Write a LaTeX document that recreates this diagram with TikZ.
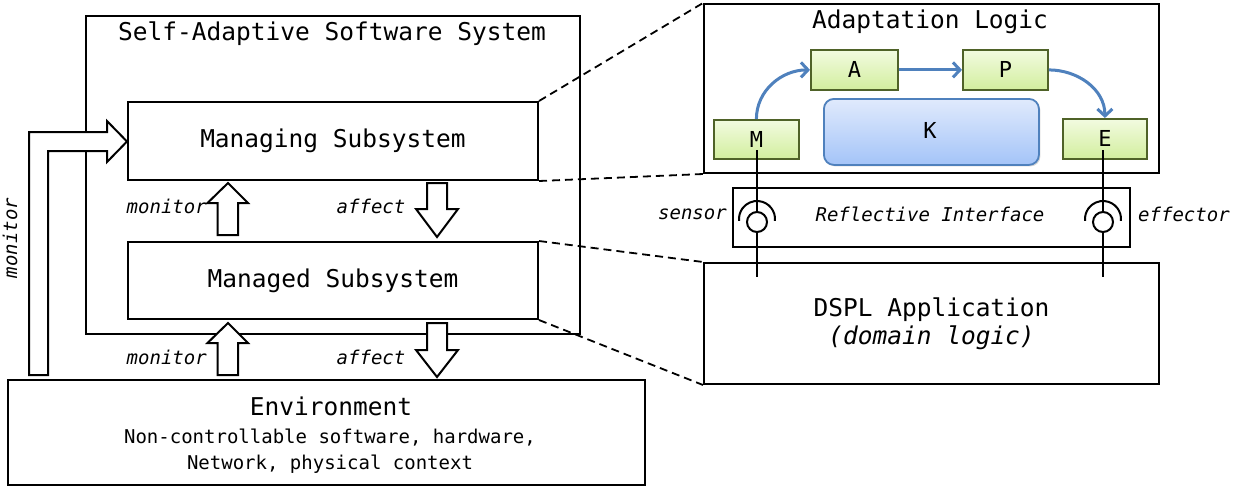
\documentclass[tikz,border=0pt]{standalone}
\usepackage{fontspec}
\setmainfont{DejaVu Sans Mono}
\usetikzlibrary{arrows.meta,shadows,calc}
\definecolor{mapeline}{RGB}{79,98,40}
\definecolor{mapetop}{RGB}{242,251,224}
\definecolor{mapebot}{RGB}{210,238,158}
\definecolor{ktop}{RGB}{224,234,252}
\definecolor{kbot}{RGB}{164,196,248}
\definecolor{kline}{RGB}{79,129,189}
\definecolor{flowc}{RGB}{79,129,189}
\newcommand\FBig{\fontsize{24.5}{29}\selectfont}
\newcommand\FSmall{\fontsize{19}{26}\selectfont}
\newcommand\FMape{\fontsize{22}{25}\selectfont}
\begin{document}
\begin{tikzpicture}[x=1pt,y=-1pt,
  box/.style={draw,line width=2pt,fill=white,anchor=north west,inner sep=0pt,font=\FBig},
  mape/.style={draw=mapeline,line width=1.8pt,top color=mapetop,bottom color=mapebot,
    anchor=north west,inner sep=0pt,font=\FMape,
    drop shadow={shadow xshift=1.5pt,shadow yshift=-1.5pt,opacity=0.35,fill=black!45}},
  kbox/.style={draw=kline,line width=1.8pt,top color=ktop,bottom color=kbot,rounded corners=10pt,
    anchor=north west,inner sep=0pt,
    drop shadow={shadow xshift=1.5pt,shadow yshift=-1.5pt,opacity=0.35,fill=black!45}},
  blockarrow/.style={draw,line width=2pt,fill=white,line join=miter},
  lbl/.style={font=\FSmall\itshape,inner sep=0pt},
  flow/.style={draw=flowc,line width=3pt,-{Straight Barb[length=7pt,width=15pt,line width=3pt]}},
  link/.style={draw,line width=2pt},
  zoomline/.style={draw,line width=1.8pt,dash pattern=on 8pt off 5pt},
  socket/.style={circle,draw,line width=2pt,minimum size=20pt,inner sep=0pt}]
\useasboundingbox (0,0) rectangle (1233,488);

% left side
\node[box,minimum width=494pt,minimum height=318pt] (sass) at (85,15) {};
\node[font=\FBig,inner sep=0pt] (sasst) at (332,34) {Self-Adaptive Software System};

% L-shaped monitor arrow
\draw[blockarrow] (29,375) -- (29,132) -- (107,132) -- (107,121) -- (127,141.5)
  -- (107,162) -- (107,151) -- (48,151) -- (48,375) -- cycle;
\node[lbl,rotate=90] (monl) at (10,238) {monitor};

\node[box,minimum width=410pt,minimum height=78pt] (mng) at (127,101) {Managing Subsystem};
\node[box,minimum width=410pt,minimum height=77pt] (mgd) at (127,241) {Managed Subsystem};
\node[box,minimum width=637pt,minimum height=105pt] (env) at (7,379) {};
\node[font=\FBig,inner sep=0pt] (envt) at (331,406) {Environment};
\node[font=\FSmall,align=center,inner sep=0pt] (envs) at (330,451)
  {Non-controllable software, hardware,\\Network, physical context};

% block arrows
\draw[blockarrow] (217.5,235) -- (217.5,203) -- (207.5,203) -- (228,183) -- (248,203)
  -- (238,203) -- (238,235) -- cycle;
\draw[blockarrow] (217.5,375) -- (217.5,343) -- (207.5,343) -- (228,323) -- (248,343)
  -- (238,343) -- (238,375) -- cycle;
\draw[blockarrow] (427,183) -- (427,209) -- (416,209) -- (437,237) -- (458,209)
  -- (447,209) -- (447,183) -- cycle;
\draw[blockarrow] (427,323) -- (427,350) -- (416,350) -- (437,377) -- (458,350)
  -- (447,350) -- (447,323) -- cycle;
\node[lbl,anchor=east] (mon1) at (207,206) {monitor};
\node[lbl,anchor=east] (mon2) at (207,357) {monitor};
\node[lbl] (aff1) at (371,206) {affect};
\node[lbl] (aff2) at (371,357) {affect};

% right side
\node[box,minimum width=455pt,minimum height=169pt] (adapt) at (703,3) {};
\node[font=\FBig,inner sep=0pt] (adaptt) at (930,22) {Adaptation Logic};
\node[box,minimum width=397pt,minimum height=59pt] (refl) at (732,187) {};
\node[lbl] (reflt) at (930,214) {Reflective Interface};
\node[box,minimum width=455pt,minimum height=121pt,align=center] (dspl) at (703,262)
  {DSPL Application\\[-1pt]{\itshape (domain logic)}};

\node[kbox,minimum width=215pt,minimum height=66pt] (K) at (823,98) {};
\node[font=\FMape,inner sep=0pt] (Kt) at (930,130) {K};
\node[mape,minimum width=85pt,minimum height=39pt] (M) at (713,119) {M};
\node[mape,minimum width=87pt,minimum height=40pt] (A) at (810,49) {A};
\node[mape,minimum width=85pt,minimum height=40pt] (P) at (962,49) {P};
\node[mape,minimum width=84pt,minimum height=40pt] (E) at (1062,118) {E};

\draw[flow] (M.north) to[out=90,in=180] (A.west);
\draw[flow] (A.east) -- (P.west);
\draw[flow] (P.east) to[out=0,in=90] (E.north);

% sensor / effector
\node[socket] (sc) at (757,222) {};
\node[socket] (ec) at (1103,222) {};
\coordinate (sac) at (757,219);
\coordinate (eac) at (1103,219);
\draw[link] (sac) ++(-6:18pt) arc[start angle=-6,end angle=186,radius=18pt];
\draw[link] (eac) ++(-6:18pt) arc[start angle=-6,end angle=186,radius=18pt];
\coordinate (Mlow) at (757,150);
\coordinate (Elow) at (1103,150);
\coordinate (sbot) at (757,277);
\coordinate (ebot) at (1103,277);
\draw[link] (Mlow) -- (sc.north);
\draw[link] (sc.south) -- (sbot);
\draw[link] (Elow) -- (ec.north);
\draw[link] (ec.south) -- (ebot);
\node[lbl,anchor=east] (sens) at (727,214) {sensor};
\node[lbl,anchor=west] (effe) at (1138,214) {effector};

% zoom lines
\draw[zoomline] (mng.north east) -- (adapt.north west);
\draw[zoomline] (mng.south east) -- (adapt.south west);
\draw[zoomline] (mgd.north east) -- (dspl.north west);
\draw[zoomline] (mgd.south east) -- (dspl.south west);
\end{tikzpicture}
\end{document}
